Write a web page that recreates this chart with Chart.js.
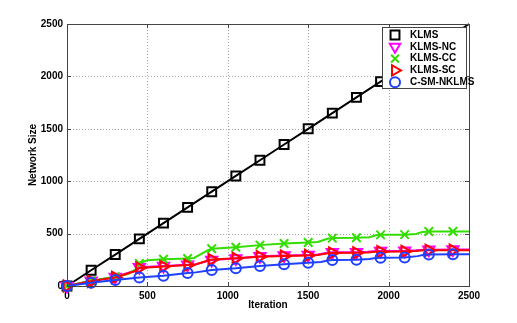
<!DOCTYPE html>
<html>
<head>
<meta charset="utf-8">
<script src="https://cdn.jsdelivr.net/npm/chart.js@4/dist/chart.umd.min.js"></script>
<style>
html,body{margin:0;padding:0;background:#fff;}
canvas{display:block;}
</style>
</head>
<body>
<canvas id="c" width="517" height="323"></canvas>
<script>
// ---- data ----
const xTicks = [0, 500, 1000, 1500, 2000, 2500];
const yTicks = [0, 500, 1000, 1500, 2000, 2500];

const klmsIter = [0,150,300,450,600,750,900,1050,1200,1350,1500,1650,1800,1950,2100,2250,2400,2500];
const klmsVal  = [0,150,300,450,600,750,900,1050,1200,1350,1500,1650,1800,1950,2100,2250,2400,2500];

const ncIter = [0,150,300,420,450,600,750,800,880,900,1050,1200,1350,1500,1560,1620,1650,1800,1870,1920,1950,2100,2170,2220,2250,2400,2500];
const ncVal  = [0,50,86,145,178,190,203,208,240,248,262,283,290,296,300,318,321,323,326,333,334,336,340,346,347,348,348];

const ccIter = [0,150,300,380,430,450,500,600,750,790,880,900,1050,1200,1350,1500,1560,1620,1650,1800,1880,1920,1950,2100,2170,2210,2250,2400,2500];
const ccVal  = [0,50,89,115,160,216,245,255,262,268,345,355,370,390,405,415,420,450,457,460,466,484,488,490,497,515,520,520,520];

const scIter = [0,150,300,420,450,600,750,800,880,900,1050,1200,1350,1500,1560,1620,1650,1800,1870,1920,1950,2100,2170,2220,2250,2400,2500];
const scVal  = [0,45,82,140,172,186,200,205,245,252,264,280,286,292,296,312,315,317,320,326,327,330,333,340,341,342,342];

const csmIter = [0,150,300,450,600,750,800,880,900,1050,1200,1350,1500,1580,1620,1650,1800,1880,1920,1950,2100,2180,2220,2250,2400,2500];
const csmVal  = [0,32,57,80,98,124,130,148,153,169,191,207,222,230,244,248,250,258,268,270,273,285,298,300,302,303];

const markerStep = 150;
const markerLast = 2400;

function pts(xs, ys){ return xs.map((x,i)=>({x:x, y:ys[i]})); }
function mk(r){ return ctx => (ctx.raw && ctx.raw.x % markerStep === 0 && ctx.raw.x <= markerLast) ? r : 0; }

const series = [
  {label:'KLMS', data:pts(klmsIter,klmsVal), color:'#000000', style:'rect', rot:0, r:6.3, lr:6.3, order:5},
  {label:'KLMS-NC', data:pts(ncIter,ncVal), color:'#ff00ff', style:'triangle', rot:180, r:6.5, lr:6, order:4},
  {label:'KLMS-CC', data:pts(ccIter,ccVal), color:'#33dd00', style:'crossRot', rot:0, r:6, lr:5.5, order:3},
  {label:'KLMS-SC', data:pts(scIter,scVal), color:'#ff0000', style:'triangle', rot:90, r:6.5, lr:6, order:2},
  {label:'C-SM-NKLMS', data:pts(csmIter,csmVal), color:'#2040ff', style:'circle', rot:0, r:5, lr:5, order:1}
];

const datasets = series.map(s => ({
  label: s.label,
  data: s.data,
  borderColor: s.color,
  backgroundColor: 'rgba(0,0,0,0)',
  borderWidth: 2,
  pointStyle: s.style,
  pointRotation: s.rot,
  pointRadius: mk(s.r),
  pointBorderColor: s.color,
  pointBackgroundColor: 'rgba(0,0,0,0)',
  pointBorderWidth: 2,
  pointHoverRadius: 0,
  tension: 0,
  clip: false,
  order: s.order
}));

const frameColor = '#444444';

const framePlugin = {
  id: 'frame',
  beforeDatasetsDraw(chart) {
    const ctx = chart.ctx, a = chart.chartArea;
    const xs = chart.scales.x, ys = chart.scales.y;
    ctx.save();
    ctx.strokeStyle = '#a8a8a8';
    ctx.lineWidth = 1;
    ctx.setLineDash([1, 2]);
    ctx.beginPath();
    xTicks.slice(1, -1).forEach(v => {
      const px = Math.round(xs.getPixelForValue(v)) + 0.5;
      ctx.moveTo(px, a.top); ctx.lineTo(px, a.bottom);
    });
    yTicks.slice(1, -1).forEach(v => {
      const py = Math.round(ys.getPixelForValue(v)) + 0.5;
      ctx.moveTo(a.left, py); ctx.lineTo(a.right, py);
    });
    ctx.stroke();
    ctx.restore();
  },
  afterDatasetsDraw(chart) {
    const ctx = chart.ctx, a = chart.chartArea;
    const xs = chart.scales.x, ys = chart.scales.y;
    ctx.save();
    ctx.setLineDash([]);
    ctx.strokeStyle = frameColor;
    ctx.lineWidth = 1;
    ctx.strokeRect(Math.round(a.left)+0.5, Math.round(a.top)+0.5, Math.round(a.right-a.left), Math.round(a.bottom-a.top));
    ctx.beginPath();
    xTicks.forEach(v => {
      const px = Math.round(xs.getPixelForValue(v)) + 0.5;
      ctx.moveTo(px, a.bottom); ctx.lineTo(px, a.bottom-4);
      ctx.moveTo(px, a.top); ctx.lineTo(px, a.top+4);
    });
    yTicks.forEach(v => {
      const py = Math.round(ys.getPixelForValue(v)) + 0.5;
      ctx.moveTo(a.left, py); ctx.lineTo(a.left+4, py);
      ctx.moveTo(a.right, py); ctx.lineTo(a.right-4, py);
    });
    ctx.stroke();
    ctx.restore();
  },
  afterDraw(chart) {
    const ctx = chart.ctx;
    const bx = 382, by = 27, bw = 84, bh = 61;
    ctx.save();
    ctx.fillStyle = '#ffffff';
    ctx.fillRect(bx, by, bw, bh);
    ctx.strokeStyle = frameColor;
    ctx.lineWidth = 1;
    ctx.strokeRect(bx+0.5, by+0.5, bw, bh);
    const rowH = 11.8;
    series.forEach((s, i) => {
      const cy = by + 8 + i*rowH;
      ctx.strokeStyle = s.color;
      ctx.fillStyle = 'rgba(0,0,0,0)';
      ctx.lineWidth = 2;
      Chart.helpers.drawPoint(ctx, {pointStyle: s.style, rotation: s.rot, radius: s.lr, borderWidth: 2}, 395, cy);
      ctx.fillStyle = '#000000';
      ctx.font = 'bold 10px "Liberation Sans", Arial, sans-serif';
      ctx.textBaseline = 'middle';
      ctx.textAlign = 'left';
      ctx.fillText(s.label, 410, cy);
    });
    ctx.restore();
  }
};

Chart.defaults.font.family = '"Liberation Sans", Arial, sans-serif';
Chart.defaults.color = '#000000';

new Chart(document.getElementById('c'), {
  type: 'line',
  data: { datasets },
  options: {
    responsive: false,
    animation: false,
    devicePixelRatio: 1,
    layout: { padding: { left: 0, top: 24, right: 48, bottom: 0 } },
    plugins: { legend: { display: false }, tooltip: { enabled: false } },
    scales: {
      x: {
        type: 'linear', min: 0, max: 2500,
        afterBuildTicks: s => { s.ticks = xTicks.map(v => ({value: v})); },
        afterFit: s => { s.height = 37; },
        ticks: { font: { size: 10, weight: 'bold' }, padding: 4, maxRotation: 0, color: '#000', callback: v => String(v) },
        grid: { display: false, drawTicks: false },
        border: { display: false },
        title: { display: true, text: 'Iteration', font: { size: 10, weight: 'bold' }, padding: { top: 0, bottom: 12 }, color: '#000' }
      },
      y: {
        type: 'linear', min: 0, max: 2500,
        afterBuildTicks: s => { s.ticks = yTicks.map(v => ({value: v})); },
        afterFit: s => { s.width = 67; },
        ticks: { font: { size: 10, weight: 'bold' }, padding: 4, color: '#000', callback: v => String(v) },
        grid: { display: false, drawTicks: false },
        border: { display: false },
        title: { display: true, text: 'Network Size', font: { size: 10, weight: 'bold' }, padding: { top: 27, bottom: 0 }, color: '#000' }
      }
    }
  },
  plugins: [framePlugin]
});
</script>
</body>
</html>
